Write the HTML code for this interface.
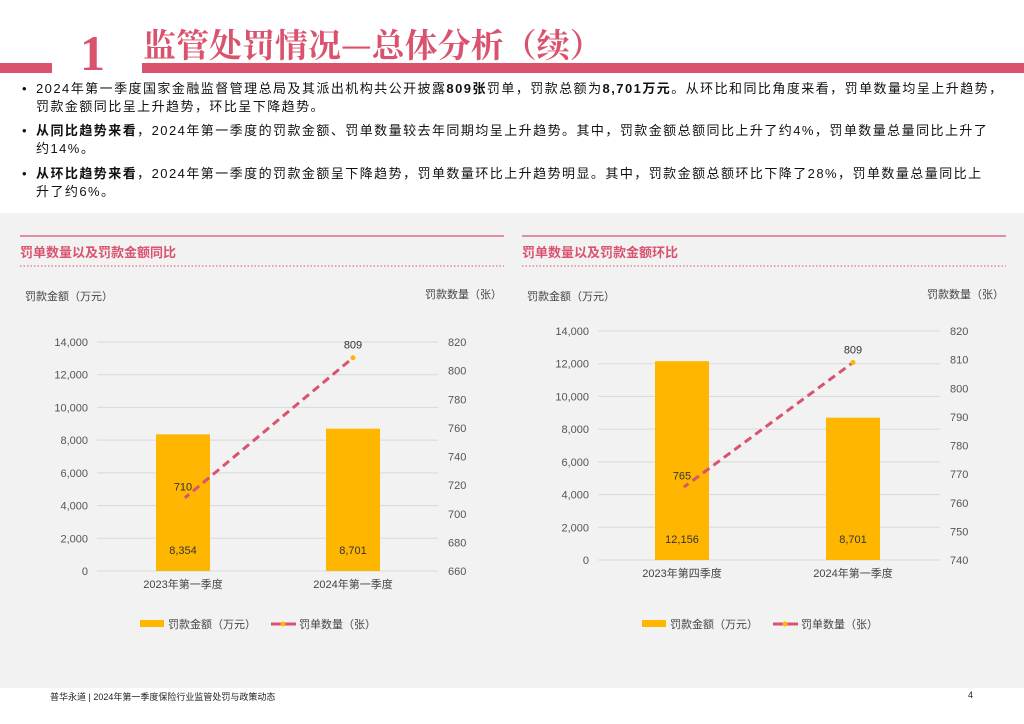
<!DOCTYPE html>
<html><head><meta charset="utf-8"><style>
body{margin:0;width:1024px;height:724px;background:#fff;font-family:"Liberation Sans","Noto Sans CJK SC",sans-serif;position:relative;overflow:hidden}
.a{position:absolute}
ul{margin:0;padding:0;list-style:none}
li{position:absolute;left:22px;font-size:13px;line-height:18px;color:#111;width:1000px;letter-spacing:1.45px;white-space:nowrap}
li:before{content:"•";position:absolute;left:0}
li span{display:block;padding-left:14px}
</style></head><body>
<div class="a" style="left:0;top:63px;width:52px;height:10px;background:#d9536e"></div>
<div class="a" style="left:142px;top:63px;width:882px;height:10px;background:#d9536e"></div>
<div class="a" style="left:80px;top:28px;font-family:'Liberation Serif',serif;font-weight:bold;font-size:50px;line-height:50px;color:#d9536e">1</div>
<div class="a" style="left:143px;top:24px;font-size:33px;line-height:40px;font-weight:bold;color:#d9536e;font-family:'Noto Serif CJK SC','Noto Sans CJK SC',serif">监管处罚情况—总体分析（续）</div>
<ul>
<li style="top:80px"><span>2024年第一季度国家金融监督管理总局及其派出机构共公开披露<b>809张</b>罚单，罚款总额为<b>8,701万元</b>。从环比和同比角度来看，罚单数量均呈上升趋势，<br>罚款金额同比呈上升趋势，环比呈下降趋势。</span></li>
<li style="top:122px"><span><b>从同比趋势来看</b>，2024年第一季度的罚款金额、罚单数量较去年同期均呈上升趋势。其中，罚款金额总额同比上升了约4%，罚单数量总量同比上升了<br>约14%。</span></li>
<li style="top:165px"><span><b>从环比趋势来看</b>，2024年第一季度的罚款金额呈下降趋势，罚单数量环比上升趋势明显。其中，罚款金额总额环比下降了28%，罚单数量总量同比上<br>升了约6%。</span></li>
</ul>
<div class="a" style="left:0;top:213px;width:1024px;height:475px;background:#f2f2f2"></div>
<svg class="a" style="left:0;top:0" width="1024" height="724" id="svg"></svg>
<div class="a" style="left:50px;top:690px;font-size:9px;color:#222">普华永道 | 2024年第一季度保险行业监管处罚与政策动态</div>
<div class="a" style="left:968px;top:690px;font-size:9px;color:#222">4</div>
<script>
const leftCats=["2023年第一季度","2024年第一季度"];
const leftAmounts=[8354,8701];
const leftCounts=[710,809];
const rightCats=["2023年第四季度","2024年第一季度"];
const rightAmounts=[12156,8701];
const rightCounts=[765,809];
const amtTicks=[0,2000,4000,6000,8000,10000,12000,14000];
const leftCntTicks=[660,680,700,720,740,760,780,800,820];
const rightCntTicks=[740,750,760,770,780,790,800,810,820];
const svg=document.getElementById('svg');const NS='http://www.w3.org/2000/svg';
function el(t,at,txt){const e=document.createElementNS(NS,t);for(const k in at)e.setAttribute(k,at[k]);if(txt!==undefined)e.textContent=txt;svg.appendChild(e);return e;}
function fmt(v){return v.toLocaleString('en-US');}
function chart(o){
 const {x0,title,y0,y1,gx0,gx1,cats,amts,cnts,cTicks,bx,prefix}=o;
 let e=el('line',{x1:x0,x2:x0+484,y1:236,y2:236,stroke:'#d9536e','stroke-width':1.2});
 e=el('text',{x:x0,y:257,'font-size':13,'font-weight':'bold',fill:'#d9536e'},title);
 e=el('line',{x1:x0,x2:x0+484,y1:266,y2:266,stroke:'#d9536e','stroke-width':1,'stroke-dasharray':'1.5,2'});
 e=el('text',{x:x0+5,y:300,'font-size':11,fill:'#444'},'罚款金额（万元）');
 e=el('text',{x:x0+482,y:298,'font-size':11,fill:'#444','text-anchor':'end'},'罚款数量（张）');
 const amax=amtTicks[amtTicks.length-1];
 const ya=v=>y0-v/amax*(y0-y1);
 const cmin=cTicks[0],cmax=cTicks[cTicks.length-1];
 const yc=v=>y0-(v-cmin)/(cmax-cmin)*(y0-y1);
 amtTicks.forEach(t=>{e=el('line',{x1:gx0,x2:gx1,y1:ya(t),y2:ya(t),stroke:'#d9d9d9','stroke-width':1});
  e=el('text',{x:gx0-9,y:ya(t)+4,'font-size':11,fill:'#555','text-anchor':'end'},fmt(t));});
 cTicks.forEach(t=>{e=el('text',{x:gx1+10,y:yc(t)+4,'font-size':11,fill:'#555'},t);});
 cats.forEach((c,i)=>{const cx=bx[i];
  e=el('rect',{x:cx-27,y:ya(amts[i]),width:54,height:y0-ya(amts[i]),fill:'#ffb600'});
  e=el('text',{x:cx,y:y0-17,'font-size':11,fill:'#333','text-anchor':'middle'},fmt(amts[i]));
  e=el('text',{x:cx,y:y0+17,'font-size':11,fill:'#444','text-anchor':'middle'},c);});
 e=el('polyline',{points:cnts.map((v,i)=>bx[i]+','+yc(v)).join(' '),fill:'none',stroke:'#d9536e','stroke-width':3,'stroke-dasharray':'8,5'});
 cnts.forEach((v,i)=>{e=el('circle',{cx:bx[i],cy:yc(v),r:2.5,fill:'#ffb600'});
  e=el('text',{x:bx[i],y:yc(v)-9,'font-size':11,fill:'#333','text-anchor':'middle'},v);});
 const lx=x0+120,ly=624;
 e=el('rect',{x:lx,y:ly-4,width:24,height:7,fill:'#ffb600'});
 e=el('text',{x:lx+28,y:ly+4,'font-size':11,fill:'#444'},'罚款金额（万元）');
 e=el('line',{x1:lx+131,x2:lx+156,y1:ly,y2:ly,stroke:'#d9536e','stroke-width':3});
 e=el('circle',{cx:lx+143,cy:ly,r:2.5,fill:'#ffb600'});
 e=el('text',{x:lx+159,y:ly+4,'font-size':11,fill:'#444'},'罚单数量（张）');
}
chart({prefix:'yoy',x0:20,title:'罚单数量以及罚款金额同比',y0:571,y1:342,gx0:97,gx1:438,cats:leftCats,amts:leftAmounts,cnts:leftCounts,cTicks:leftCntTicks,bx:[183,353]});
chart({prefix:'qoq',x0:522,title:'罚单数量以及罚款金额环比',y0:560,y1:331,gx0:598,gx1:940,cats:rightCats,amts:rightAmounts,cnts:rightCounts,cTicks:rightCntTicks,bx:[682,853]});
</script>
</body></html>
